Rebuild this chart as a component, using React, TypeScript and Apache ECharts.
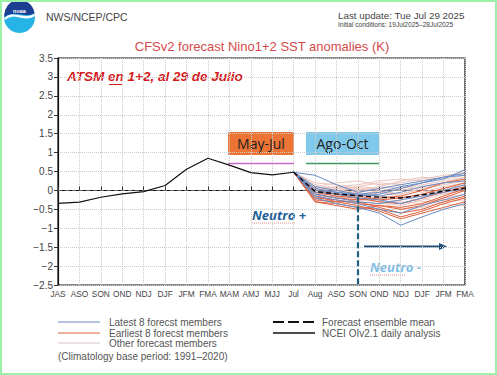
import React, { useEffect, useRef } from "react";
import * as echarts from "echarts";

const categories = ["JAS","ASO","SON","OND","NDJ","DJF","JFM","FMA","MAM","AMJ","MJJ","Jul","Aug","ASO","SON","OND","NDJ","DJF","JFM","FMA"];

// NCEI OIv2.1 observed (JAS .. Jul)
const observed = [-0.34,-0.31,-0.18,-0.09,-0.03,0.13,0.56,0.85,0.67,0.47,0.41,0.48];

// Forecast members (Jul .. FMA)
const latestMembers = [
  [0.48,0.40,0.15,-0.05,0.05,0.15,0.25,0.35,0.45],
  [0.48,-0.20,-0.35,-0.45,-0.60,-0.92,-0.70,-0.50,-0.35],
  [0.48,-0.05,-0.10,-0.20,-0.25,-0.35,-0.20,0.00,0.15],
  [0.48,0.00,-0.05,-0.15,-0.10,0.05,0.20,0.30,0.55],
  [0.48,-0.10,-0.20,-0.30,-0.35,-0.25,-0.15,-0.05,0.05],
  [0.48,0.10,0.00,-0.10,-0.15,-0.05,0.10,0.20,0.25],
  [0.48,-0.15,-0.25,-0.35,-0.50,-0.60,-0.40,-0.25,-0.10],
  [0.48,0.05,-0.05,-0.10,-0.05,0.10,0.20,0.35,0.40],
];
const earliestMembers = [
  [0.48,-0.30,-0.35,-0.45,-0.50,-0.70,-0.55,-0.35,-0.20],
  [0.48,-0.20,-0.25,-0.35,-0.40,-0.50,-0.40,-0.20,0.00],
  [0.48,-0.05,-0.15,-0.20,-0.30,-0.35,-0.20,-0.05,0.10],
  [0.48,-0.25,-0.30,-0.30,-0.45,-0.60,-0.50,-0.30,-0.15],
  [0.48,-0.10,-0.20,-0.25,-0.20,-0.15,0.00,0.20,0.30],
  [0.48,-0.15,-0.30,-0.40,-0.55,-0.75,-0.60,-0.45,-0.30],
  [0.48,0.00,-0.10,-0.15,-0.25,-0.20,-0.10,0.05,0.20],
  [0.48,-0.30,-0.40,-0.50,-0.40,-0.45,-0.35,-0.15,0.05],
];
const otherMembers = [
  [0.48,0.10,0.20,0.25,0.15,0.20,0.30,0.40,0.45],
  [0.48,0.00,0.05,0.10,0.05,0.00,0.10,0.20,0.30],
  [0.48,-0.10,0.00,0.05,-0.05,-0.10,0.05,0.15,0.25],
  [0.48,0.05,0.10,0.15,0.25,0.30,0.25,0.35,0.50],
  [0.48,-0.05,-0.10,-0.05,-0.15,-0.20,-0.10,0.00,0.10],
  [0.48,-0.15,-0.20,-0.25,-0.30,-0.40,-0.25,-0.10,0.00],
  [0.48,0.15,0.05,0.00,0.10,0.05,-0.05,0.10,0.20],
  [0.48,-0.20,-0.15,-0.10,-0.20,-0.30,-0.35,-0.20,-0.10],
  [0.48,0.05,-0.05,0.10,0.20,0.15,0.00,-0.10,0.05],
  [0.48,-0.10,-0.20,-0.15,-0.05,-0.15,-0.30,-0.25,-0.20],
  [0.48,0.00,0.10,0.00,-0.10,0.05,0.15,0.25,0.35],
  [0.48,-0.05,-0.15,-0.30,-0.35,-0.25,-0.10,0.05,0.15],
  [0.48,0.20,0.15,0.05,0.00,-0.10,0.05,0.20,0.35],
  [0.48,-0.25,-0.30,-0.20,-0.30,-0.50,-0.45,-0.30,-0.25],
  [0.48,0.10,0.00,-0.05,0.10,0.25,0.35,0.30,0.40],
  [0.48,-0.15,-0.05,-0.10,-0.25,-0.35,-0.20,-0.35,-0.40],
];
const ensembleMean = [0.48,-0.03,-0.09,-0.14,-0.18,-0.20,-0.12,-0.02,0.06];

const yTicks = { min: -2.5, max: 3.5, interval: 0.5 };
const forecastStart = 11;

const FONT = "Liberation Sans";

function padForecast(vals: number[]) {
  const out: (number | null)[] = [];
  for (let i = 0; i < forecastStart; i++) out.push(null);
  return out.concat(vals);
}

function memberSeries(list: number[][], color: string, width: number) {
  return list.map((vals) => ({
    type: "line",
    data: padForecast(vals),
    showSymbol: false,
    symbol: "none",
    silent: true,
    lineStyle: { color, width },
    z: 2,
  }));
}

export default function App() {
  const ref = useRef<HTMLDivElement>(null);
  useEffect(() => {
    if (!ref.current) return;
    const navyD = "M -15 1 A 15 15 0 0 1 15 -3 C 6 3 -4 -7 -15 1 Z";
    echarts.graphic.registerShape("noaaTop", echarts.graphic.extendPath(navyD, {}) as any);
    const chart = echarts.init(ref.current, null, { renderer: "svg" });

    const txt = (x: number, y: number, text: string, style: any = {}) => ({
      type: "text",
      x,
      y,
      style: { text, fontFamily: FONT, fontSize: 10, fill: "#555", textVerticalAlign: "middle", ...style },
    });
    const line = (x1: number, y1: number, x2: number, y2: number, stroke: string, lw = 1, dash?: number[]) => ({
      type: "line",
      shape: { x1, y1, x2, y2 },
      style: { stroke, lineWidth: lw, lineDash: dash },
    });

    const option: any = {
      animation: false,
      backgroundColor: "#ffffff",
      grid: { left: 58, right: 32, top: 58, bottom: 90, show: true, borderColor: "#111", borderWidth: 1.2, backgroundColor: "transparent" },
      xAxis: {
        type: "category",
        data: categories,
        boundaryGap: false,
        axisLine: { lineStyle: { color: "#111", width: 1.2 } },
        axisTick: { inside: true, length: 4, lineStyle: { color: "#333" } },
        axisLabel: { fontFamily: FONT, fontSize: 8.3, color: "#444", margin: 5, interval: 0 },
        splitLine: { show: true, lineStyle: { type: "dotted", color: "#cccccc", width: 1 } },
      },
      yAxis: {
        type: "value",
        min: yTicks.min,
        max: yTicks.max,
        interval: yTicks.interval,
        axisLine: { show: true, lineStyle: { color: "#111", width: 1.2 } },
        axisTick: { show: true, length: 4, lineStyle: { color: "#333" } },
        axisLabel: {
          fontFamily: FONT,
          fontSize: 10,
          color: "#444",
          margin: 5,
          formatter: (v: number) => String(v).replace("-", "\u2212"),
        },
        splitLine: { show: true, lineStyle: { type: "dotted", color: "#cccccc", width: 1 } },
      },
      series: [
        ...memberSeries(otherMembers, "#ecc6bf", 1),
        ...memberSeries(earliestMembers, "#e0603c", 1),
        ...memberSeries(latestMembers, "#6a8cc4", 1),
        {
          type: "line",
          data: padForecast(ensembleMean),
          showSymbol: false,
          symbol: "none",
          silent: true,
          lineStyle: { color: "#000", width: 1.3, type: [5, 3] },
          z: 4,
          markLine: {
            silent: true,
            symbol: "none",
            label: { show: false },
            lineStyle: { color: "#1f5f7f", width: 2.2, type: [6, 3] },
            data: [[{ coord: ["SON", -0.18] }, { coord: ["SON", -2.5] }]],
          },
        },
        {
          type: "line",
          data: observed,
          showSymbol: false,
          symbol: "none",
          silent: true,
          lineStyle: { color: "#111", width: 1.2 },
          z: 5,
          markLine: {
            silent: true,
            symbol: "none",
            label: { show: false },
            lineStyle: { color: "#666", width: 1, type: [4, 3] },
            data: [{ yAxis: 0 }],
            z: 1,
          },
        },
      ],
      graphic: [
        // outer frame
        { type: "rect", shape: { x: 1, y: 1, width: 495, height: 373 }, style: { fill: "none", stroke: "#9ef0a8", lineWidth: 2 }, z: 100 },
        // logo
        { type: "circle", shape: { cx: 19.5, cy: 17.5, r: 15.5 }, style: { fill: "#26b3e6" } },
        { type: "noaaTop", x: 19.5, y: 16, scaleX: 1, scaleY: 1, style: { fill: "#1d3f93" } },
        { type: "bezierCurve", shape: { x1: 4.5, y1: 19, x2: 34.5, y2: 15, cpx1: 14, cpy1: 10, cpx2: 24, cpy2: 22 }, style: { stroke: "#ffffff", lineWidth: 2.2, fill: "none" } },
        txt(19.5, 10.5, "noaa", { fill: "#ffffff", fontSize: 5.5, fontWeight: "bold", textAlign: "center" }),
        // header
        txt(46, 17, "NWS/NCEP/CPC", { fontSize: 10.5, fill: "#444" }),
        txt(338, 15, "Last update: Tue Jul 29 2025", { fontSize: 9.8, fill: "#444" }),
        txt(338, 24, "Initial conditions: 19Jul2025\u201328Jul2025", { fontSize: 6.6, fill: "#444" }),
        txt(262, 46, "CFSv2 forecast Nino1+2 SST anomalies (K)", { fontSize: 13, fill: "#d44a4a", textAlign: "center" }),
        // annotations
        txt(67, 76, "ATSM en 1+2, al 29 de Julio", { fontSize: 13.5, fontWeight: "bold", fontStyle: "italic", fill: "#d41c1c" }),
        line(109, 84.5, 122, 84.5, "#d41c1c", 1),
        { type: "rect", shape: { x: 228, y: 132, width: 66, height: 23 }, style: { fill: "#ec7434" } },
        txt(261, 143.5, "May-Jul", { fontSize: 14, fill: "#222", textAlign: "center", fontFamily: "Open Sans" }),
        { type: "rect", shape: { x: 306, y: 132, width: 73, height: 23 }, style: { fill: "#80c9eb" } },
        txt(342.5, 143.5, "Ago-Oct", { fontSize: 14, fill: "#222", textAlign: "center", fontFamily: "Open Sans" }),
        line(228, 163.5, 294, 163.5, "#cc6acc", 1.6),
        line(306, 163.5, 379, 163.5, "#3a9a5c", 1.6),
        txt(252, 215, "Neutro +", { fontSize: 13, fontWeight: "bold", fontStyle: "italic", fill: "#1f5f99", fontFamily: "Open Sans" }),
        line(252, 223, 296, 223, "#e07070", 0.8, [1, 1]),
        line(364, 246.5, 440, 246.5, "#1f4e79", 1.8),
        { type: "polygon", shape: { points: [[447, 246.5], [439, 243], [439, 250]] }, style: { fill: "#1f4e79" } },
        txt(370, 267, "Neutro -", { fontSize: 13, fontWeight: "bold", fontStyle: "italic", fill: "#80bde6", fontFamily: "Open Sans" }),
        line(370, 275, 406, 275, "#e07070", 0.8, [1, 1]),
        // legend
        line(58, 322, 100, 322, "#6a8cc4", 1),
        txt(109, 322, "Latest 8 forecst members"),
        line(58, 333, 100, 333, "#e0603c", 1),
        txt(109, 333, "Earliest 8 forecst members"),
        line(58, 343, 100, 343, "#d9c4c4", 1),
        txt(109, 343, "Other forecast members"),
        txt(58, 356, "(Climatology base period: 1991\u20132020)"),
        line(273, 322, 315, 322, "#111", 1.8, [11, 4]),
        txt(322, 322, "Forecast ensemble mean"),
        line(273, 333, 315, 333, "#111", 1.6),
        txt(322, 333, "NCEI OIv2.1 daily analysis"),
      ],
    };
    chart.setOption(option);
    return () => chart.dispose();
  }, []);
  return <div ref={ref} style={{ position: "fixed", left: 0, top: 0, width: 497, height: 375 }} />;
}
